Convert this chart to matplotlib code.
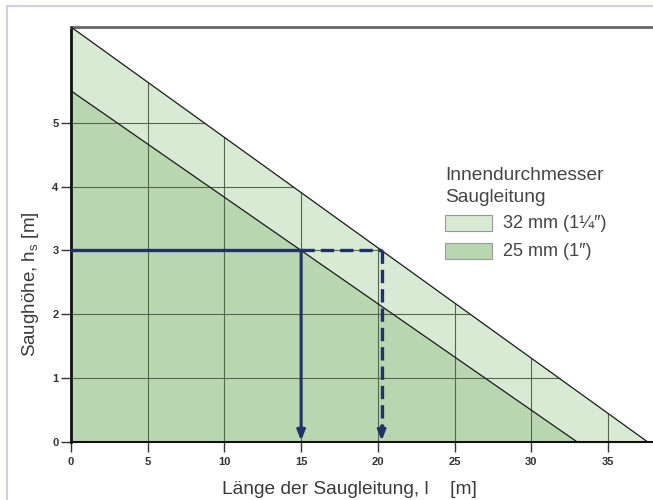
import matplotlib
matplotlib.use("Agg")
import matplotlib.pyplot as plt
from matplotlib.patches import Polygon, Rectangle

plt.rcParams["font.family"] = ["Liberation Sans", "DejaVu Sans"]

# suction lines: (height at l=0, length where height reaches 0)
pipe_labels = ["32 mm (1\u00bc\u2033)", "25 mm (1\u2033)"]
h_start = [6.5, 5.5]
l_end = [37.6, 33.0]
fill_colors = ["#d9ead4", "#b8d7b0"]

# worked example: required suction height and resulting lengths
h_example = 3.0
l_example = [15.0, 20.25]

x_ticks = [0, 5, 10, 15, 20, 25, 30, 35]
y_ticks = [0, 1, 2, 3, 4, 5]

fig = plt.figure(figsize=(6.53, 5.0), dpi=100)
# light outer frame of the figure
fig.patches.append(Rectangle((7 / 653, -0.1), 2.0, 1 - 6 / 500 + 0.1, transform=fig.transFigure,
                             fill=False, ec="#cfd0e6", lw=1.5))
ax = fig.add_axes([71 / 653, 58 / 500, 1 - 71 / 653, 415 / 500])
ax.set_xlim(0, 37.94)
ax.set_ylim(0, 6.5)

# filled triangles, large pipe first
polys = []
for h0, l1, c in zip(h_start, l_end, fill_colors):
    p = Polygon([(0, 0), (0, h0), (l1, 0)], closed=True, fc=c, ec="none", zorder=1)
    ax.add_patch(p)
    ax.plot([0, l1], [h0, 0], color="#1a1a1a", lw=0.9, zorder=3)
    polys.append(p)

# grid only inside the largest area
for xv in x_ticks[1:]:
    ln, = ax.plot([xv, xv], [0, 6.5], color="#56664f", lw=0.8, zorder=2)
    ln.set_clip_path(polys[0])
for yv in y_ticks[1:]:
    ln, = ax.plot([0, 40], [yv, yv], color="#56664f", lw=0.8, zorder=2)
    ln.set_clip_path(polys[0])

# example reading lines
navy = "#23316b"
ax.plot([0, l_example[0]], [h_example, h_example], color=navy, lw=2.4, zorder=4)
ax.plot([l_example[0], l_example[1]], [h_example, h_example], color=navy, lw=2.4,
        ls=(0, (4, 1.8)), zorder=4)
ax.annotate("", xy=(l_example[0], 0.02), xytext=(l_example[0], h_example),
            arrowprops=dict(arrowstyle="-|>,head_length=0.5,head_width=0.2", color=navy,
                            lw=2.2, mutation_scale=12, shrinkA=0, shrinkB=0), zorder=5)
ax.plot([l_example[1], l_example[1]], [h_example, 0.22], color=navy, lw=2.4,
        ls=(0, (4, 1.8)), zorder=4)
ax.annotate("", xy=(l_example[1], 0.02), xytext=(l_example[1], 0.25),
            arrowprops=dict(arrowstyle="-|>,head_length=0.5,head_width=0.2", color=navy,
                            lw=2.2, mutation_scale=12, shrinkA=0, shrinkB=0), zorder=5)

ax.spines["right"].set_visible(False)
ax.spines["left"].set_color("#111111")
ax.spines["left"].set_linewidth(2)
ax.spines["bottom"].set_color("#111111")
ax.spines["bottom"].set_linewidth(1.5)
ax.spines["top"].set_color("#666666")
ax.spines["top"].set_linewidth(2)

ax.set_xticks(x_ticks)
ax.set_yticks(y_ticks)
ax.tick_params(direction="out", length=7, width=1, color="#333333", labelsize=8,
               labelcolor="#333333", pad=2)
ax.tick_params(axis="x", pad=4)
for t in ax.get_xticklabels() + ax.get_yticklabels():
    t.set_fontweight("bold")

ax.set_xlabel("L\u00e4nge der Saugleitung, l    [m]", fontsize=13.8, color="#3a3a3a")
ax.xaxis.set_label_coords((349 - 71) / (653 - 71), -0.095)
ax.set_ylabel("Saugh\u00f6he, h$_\\mathregular{s}$ [m]", fontsize=13.5, color="#3a3a3a")
ax.yaxis.set_label_coords(-30 / 582, (442 - 284) / 415)

# legend drawn by hand in figure pixels
fig.text(445 / 653, 1 - 175 / 500, "Innendurchmesser", fontsize=13.8, color="#444444", va="center")
fig.text(445 / 653, 1 - 197 / 500, "Saugleitung", fontsize=13.8, color="#444444", va="center")
for i, (lab, c) in enumerate(zip(pipe_labels, fill_colors)):
    ytop = 215 + i * 28
    fig.patches.append(Rectangle((445 / 653, 1 - (ytop + 16) / 500), 47 / 653, 16 / 500,
                                 transform=fig.transFigure, fc=c, ec="#999999", lw=0.8))
    fig.text(503 / 653, 1 - (ytop + 8) / 500, lab, fontsize=13, color="#444444", va="center")

fig.savefig("out.png", dpi=100)
